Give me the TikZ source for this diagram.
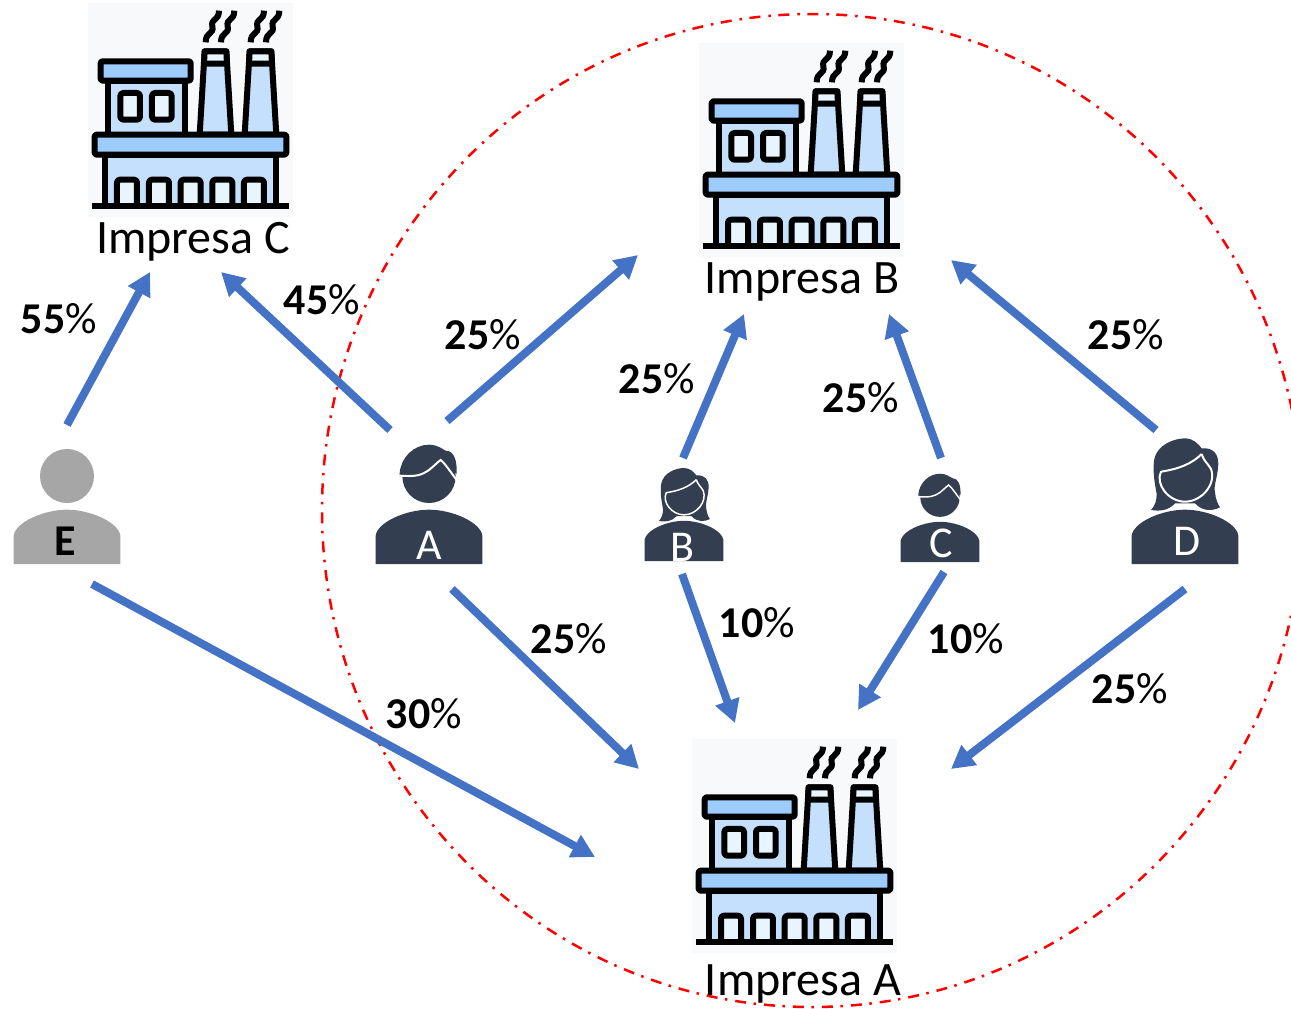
\documentclass[tikz,border=0pt]{standalone}
\usepackage{fontspec}
\setmainfont{Carlito}
\usetikzlibrary{arrows.meta,calc}
\definecolor{arrowblue}{HTML}{4472C4}
\definecolor{dark}{HTML}{333F50}
\definecolor{grayp}{HTML}{A6A6A6}
\definecolor{panelc}{HTML}{F8F9FB}
\definecolor{bandc}{HTML}{9DCBFB}
\definecolor{bodyc}{HTML}{C5E0FC}
\definecolor{paleC}{HTML}{E9F5FE}
\tikzset{
  flow/.style={draw=arrowblue,line width=8pt,-{Triangle[length=23pt,width=24pt]}},
  pct/.style={font=\fontsize{44}{46}\selectfont\bfseries,inner sep=0pt},
  fname/.style={font=\fontsize{48}{50}\selectfont,inner sep=0pt},
  letter/.style={font=\fontsize{44}{46}\selectfont,text=white,inner sep=0pt},
  panel/.style={fill=panelc,minimum width=205pt,minimum height=214pt,inner sep=0pt},
  fk/.style={draw=black,line width=6pt,line join=round},
  smoke/.style={draw=black,line width=6pt},
  ring/.style={draw=red,line width=2.5pt,dash pattern=on 11pt off 8pt on 2.5pt off 7.5pt},
  who/.style={inner sep=0pt,minimum width=108pt,minimum height=118pt},
}
\newcommand\pc[1]{#1\textmd{\%}}
\newcommand\factory[3]{%
  \node[panel] (#1) at (#2+102.5,#3+107) {};
  \begin{scope}[shift={(#2-8.333,#3-3.333)},x=0.3333pt,y=-0.3333pt]
    \filldraw[fk,fill=bodyc] (75,618)--(75,465)--(590,465)--(590,618);
    \foreach \dx in {112,208,303,398,493}{
      \filldraw[fk,fill=paleC,rounded corners=3pt] (\dx,618)--(\dx,540)--(\dx+60,540)--(\dx+60,618);
    }
    \draw[black,line width=6pt] (36,618)--(628,618);
    \filldraw[fk,fill=bodyc] (85,405)--(85,245)--(315,245)--(315,405);
    \filldraw[fk,fill=bandc,rounded corners=2pt] (63,185) rectangle (333,243);
    \filldraw[fk,fill=paleC,rounded corners=3pt] (122,280) rectangle (181,360);
    \filldraw[fk,fill=paleC,rounded corners=3pt] (217,280) rectangle (276,360);
    \foreach \cx in {0,135}{
      \filldraw[fk,fill=bodyc] (360+\cx,405)--(375+\cx,155)--(440+\cx,155)--(455+\cx,405)--cycle;
      \filldraw[fk,fill=paleC] (375+\cx,155)--(440+\cx,155)--(442+\cx,192)--(373+\cx,192)--cycle;
    }
    \filldraw[fk,fill=bandc,rounded corners=2pt] (45,405) rectangle (620,465);
    \foreach \sx in {378,424,513,559}{
      \draw[smoke] (\sx,128) .. controls (\sx,95) and (\sx+26,105) .. (\sx+20,80)
        .. controls (\sx+15,55) and (\sx+40,65) .. (\sx+40,33);
    }
  \end{scope}%
}
% body of a person; origin = bottom centre of the body, unit = 1/3 px at full size
\newcommand\torso[1]{%
  \fill[#1] (-160,0)--(-160,-85) .. controls (-155,-125) and (-70,-163) .. (0,-163)
    .. controls (70,-163) and (155,-125) .. (160,-85)--(160,0)--cycle;}
\newcommand\man[3]{% x, y, scale
  \begin{scope}[shift={(#1,#2)},x=#3*0.3333pt,y=-#3*0.3333pt]
    \torso{dark}
    \fill[dark] (0,-263) circle[radius=80];
    \fill[dark] (-88,-272) .. controls (-85,-320) and (-45,-358) .. (0,-358)
      .. controls (25,-358) and (40,-345) .. (50,-340)
      .. controls (75,-340) and (85,-310) .. (83,-270)--(40,-300)--(-88,-262)--cycle;
    \draw[white,line width=#3*2pt,line cap=round] (-88,-265) .. controls (-40,-262) and (-25,-265) .. (0,-282)
      .. controls (15,-294) and (25,-305) .. (35,-312)
      .. controls (50,-300) and (65,-275) .. (83,-252);
  \end{scope}%
}
\newcommand\woman[3]{%
  \begin{scope}[shift={(#1,#2)},x=#3*0.3333pt,y=-#3*0.3333pt]
    \torso{dark}
    \fill[dark] (-102,-162) .. controls (-90,-175) and (-85,-190) .. (-85,-210)
      .. controls (-90,-240) and (-97,-270) .. (-93,-310)
      .. controls (-85,-360) and (-30,-377) .. (0,-377)
      .. controls (25,-377) and (40,-360) .. (50,-347)
      .. controls (85,-350) and (100,-330) .. (100,-300)
      .. controls (98,-260) and (85,-235) .. (90,-215)
      .. controls (92,-195) and (98,-180) .. (105,-170)
      .. controls (85,-160) and (55,-155) .. (30,-182)
      --(-30,-182) .. controls (-50,-160) and (-75,-158) .. (-102,-162)--cycle;
    \draw[white,line width=#3*2pt,line join=round] (50,-330) .. controls (20,-300) and (-20,-285) .. (-72,-277)
      .. controls (-90,-240) and (-50,-187) .. (0,-187)
      .. controls (50,-187) and (95,-240) .. (78,-285)
      .. controls (70,-300) and (55,-310) .. (50,-330);
  \end{scope}%
}
\begin{document}
\begin{tikzpicture}[x=1pt,y=-1pt]
\useasboundingbox (0,0) rectangle (1291,1009);
\factory{fC}{88}{3}
\factory{fB}{699}{43}
\factory{fA}{692}{739}

% people
\man{429}{564}{1}
\woman{684}{561}{0.74}
\man{940}{562}{0.74}
\woman{1185}{564}{1}
\fill[grayp] (67,476) circle[radius=27];
\begin{scope}[shift={(67,564)},x=0.3333pt,y=-0.3333pt]\torso{grayp}\end{scope}

\node[who] (A) at (429,505) {};
\node[who] (B) at (684,505) {};
\node[who] (C) at (940,505) {};
\node[who] (D) at (1185,505) {};
\node[who] (E) at (67,505) {};
\node[letter] (lA) at (429,545) {A};
\node[letter] (lB) at (682,547) {B};
\node[letter] (lC) at (941,543) {C};
\node[letter] (lD) at (1187,541) {D};
\node[letter,text=black,font=\fontsize{44}{46}\selectfont\bfseries] (lE) at (65,541) {E};

\node[fname] (tC) at (193,242) {Impresa C};
\node[fname] (tB) at (802,282) {Impresa B};
\node[fname] (tA) at (803,984) {Impresa A};

% ring
\draw[ring] (812,510.5) ellipse[x radius=490,y radius=496.5];

% connectors
\draw[flow] ($(E)+(0,-80)$) -- ($(fC)+(-40.5,162)$);
\draw[flow] ($(A)+(-39,-75)$) -- ($(fC)+(30.5,162)$);
\draw[flow] ($(A)+(18,-84)$) -- ($(fB)+(-163.5,105)$);
\draw[flow] ($(B)+(-1,-47)$) -- ($(fB)+(-57.5,164)$);
\draw[flow] ($(C)+(1,-47)$) -- ($(fB)+(87.5,164)$);
\draw[flow] ($(D)+(-29,-75)$) -- ($(fB)+(149.5,110)$);
\draw[flow] ($(E)+(25,79)$) -- ($(fA)+(-199.5,11)$);
\draw[flow] ($(A)+(23,84)$) -- ($(fA)+(-155.5,-77)$);
\draw[flow] ($(B)+(-2,69)$) -- ($(fA)+(-59.5,-123)$);
\draw[flow] ($(C)+(4,67)$) -- ($(fA)+(63.5,-136)$);
\draw[flow] ($(D)+(0,84)$) -- ($(fA)+(156.5,-77)$);

% labels
\node[pct] (p1) at (59,319) {\pc{55}};
\node[pct] (p2) at (322,300) {\pc{45}};
\node[pct] (p3) at (483,335) {\pc{25}};
\node[pct] (p4) at (657,379) {\pc{25}};
\node[pct] (p5) at (861,398) {\pc{25}};
\node[pct] (p6) at (1126,335) {\pc{25}};
\node[pct] (p7) at (569,639) {\pc{25}};
\node[pct] (p8) at (757,623) {\pc{10}};
\node[pct] (p9) at (966,639) {\pc{10}};
\node[pct] (p10) at (424,714) {\pc{30}};
\node[pct] (p11) at (1130,689) {\pc{25}};
\end{tikzpicture}
\end{document}
